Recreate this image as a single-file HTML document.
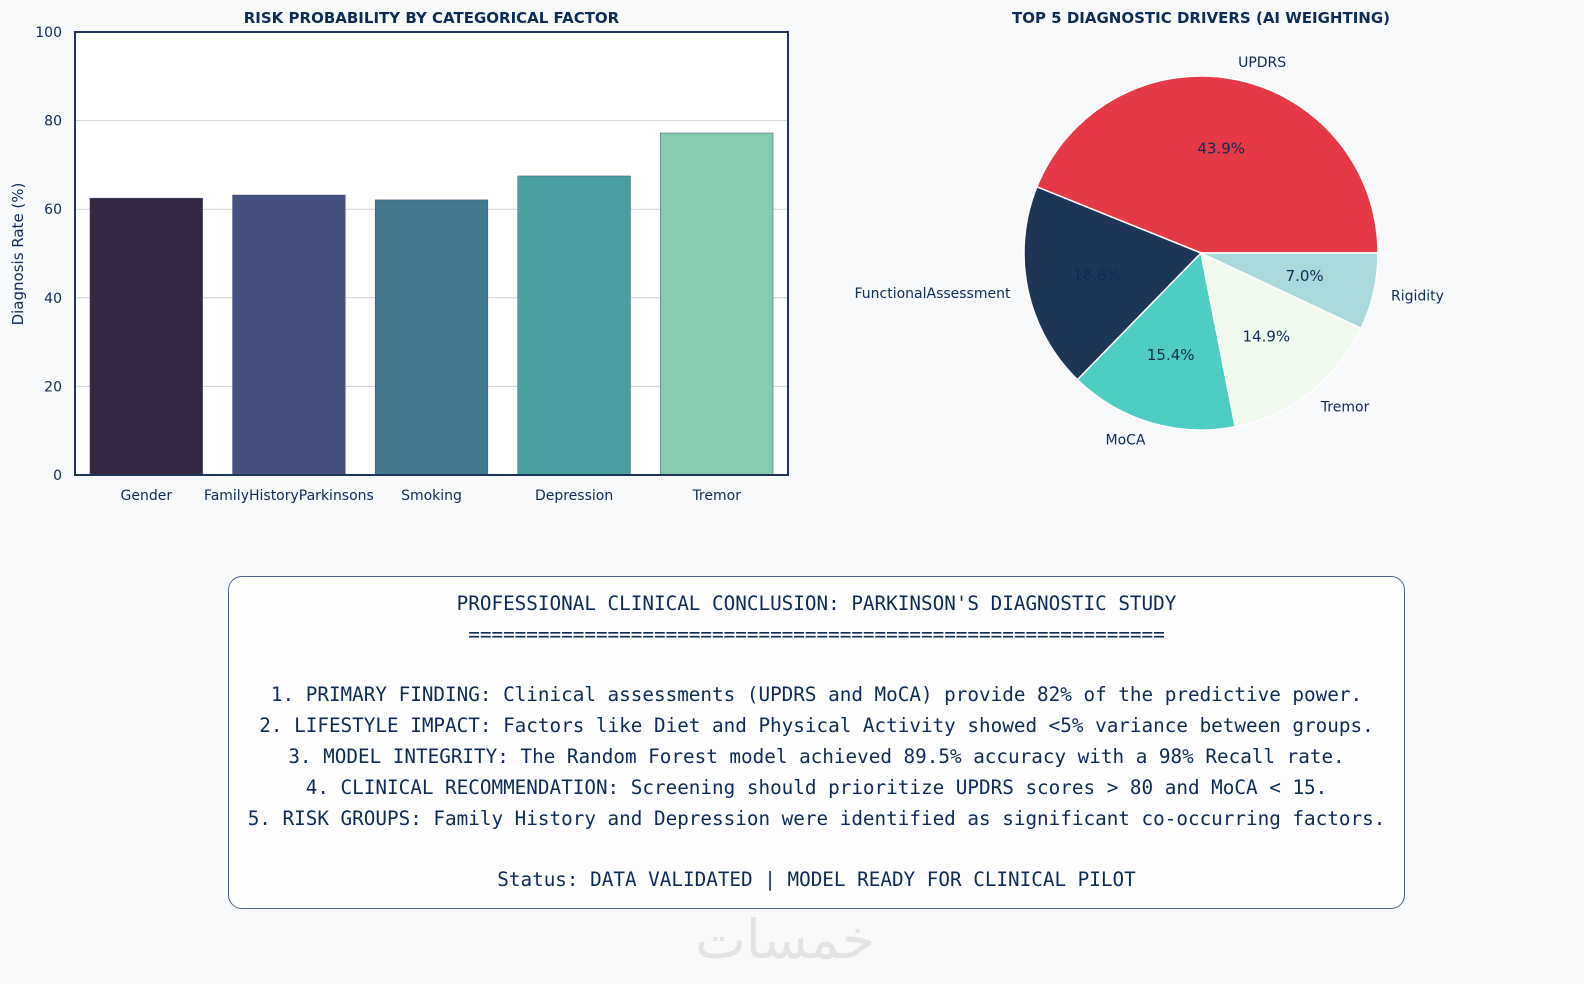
<!DOCTYPE html>
<html><head><meta charset="utf-8"><style>
body{margin:0;background:#f8f9fb;width:1584px;height:984px;overflow:hidden;font-family:"DejaVu Sans","Liberation Sans",sans-serif;}
svg text{fill:#0d2b55;}
#box{position:absolute;left:228px;top:576px;width:1175px;height:331px;border:1.5px solid #4a6384;border-radius:14px;background:#fdfdfe;}
#box div{position:absolute;left:0;width:100%;text-align:center;font-family:"DejaVu Sans Mono","Liberation Mono",monospace;font-size:19.3px;color:#0d2b55;white-space:pre;}
#wm{position:absolute;left:680px;top:895px;width:210px;text-align:center;font-size:54px;color:#e2e3e5;font-family:"Noto Sans CJK SC","DejaVu Sans",sans-serif;}
</style></head><body>
<svg id="chart" width="1584" height="984" style="position:absolute;left:0;top:0"></svg>
<div id="box">
<div style="top:15px">PROFESSIONAL CLINICAL CONCLUSION: PARKINSON'S DIAGNOSTIC STUDY</div>
<div style="top:46px">============================================================</div>
<div style="top:106px">1. PRIMARY FINDING: Clinical assessments (UPDRS and MoCA) provide 82% of the predictive power.</div>
<div style="top:137px">2. LIFESTYLE IMPACT: Factors like Diet and Physical Activity showed &lt;5% variance between groups.</div>
<div style="top:168px">3. MODEL INTEGRITY: The Random Forest model achieved 89.5% accuracy with a 98% Recall rate.</div>
<div style="top:199px">4. CLINICAL RECOMMENDATION: Screening should prioritize UPDRS scores &gt; 80 and MoCA &lt; 15.</div>
<div style="top:230px">5. RISK GROUPS: Family History and Depression were identified as significant co-occurring factors.</div>
<div style="top:291px">Status: DATA VALIDATED | MODEL READY FOR CLINICAL PILOT</div>
</div>
<div id="wm">خمسات</div>
<script>
const barCategories=["Gender","FamilyHistoryParkinsons","Smoking","Depression","Tremor"];
const barValues=[62.5,63.2,62.1,67.5,77.2];
const barColors=["#35273f","#47517f","#447792","#499e9e","#86cbad"];
const yTicks=[0,20,40,60,80,100];
const pieLabels=["UPDRS","FunctionalAssessment","MoCA","Tremor","Rigidity"];
const pieValues=[43.9,18.8,15.4,14.9,7.0];
const pieColors=["#e63946","#1d3557","#4ecdc4","#f1faee","#a8dadc"];

const NS="http://www.w3.org/2000/svg";
const svg=document.getElementById("chart");
function mk(t,a,p){const e=document.createElementNS(NS,t);for(const k in a)e.setAttribute(k,a[k]);(p||svg).appendChild(e);return e;}
const X0=75,X1=788,Y0=475,Y1=32;
const y=v=>Y0-(v-0)/(100-0)*(Y0-Y1);
const step=(X1-X0)/barCategories.length;
const xc=i=>X0+step*(i+0.5);
let r=mk("rect",{x:X0,y:Y1,width:X1-X0,height:Y0-Y1,fill:"#fff"});


yTicks.forEach(t=>{
 if(t>0&&t<100){const l=mk("line",{x1:X0,x2:X1,y1:y(t),y2:y(t),stroke:"#cdd2da","stroke-width":1});
 
 }
 const tx=mk("text",{x:X0-13,y:y(t)+5,"text-anchor":"end","font-size":14});tx.textContent=t;
 
 
});
barValues.forEach((v,i)=>{
 const w=step*0.79;
 const b=mk("rect",{x:xc(i)-w/2,y:y(v),width:w,height:Y0-y(v),fill:barColors[i],stroke:"#3a4f7a","stroke-width":0.5});
 
 
 const tx=mk("text",{x:xc(i),y:Y0+25,"text-anchor":"middle","font-size":14});tx.textContent=barCategories[i];
 
 
});
r=mk("rect",{x:X0,y:Y1,width:X1-X0,height:Y0-Y1,fill:"none",stroke:"#1d3557","stroke-width":2});


let t=mk("text",{x:(X0+X1)/2,y:23,"text-anchor":"middle","font-size":15,"font-weight":"bold"});t.textContent="RISK PROBABILITY BY CATEGORICAL FACTOR";


t=mk("text",{x:23,y:254,"text-anchor":"middle","font-size":15,transform:"rotate(-90 23 254)"});t.textContent="Diagnosis Rate (%)";



const cx=1201,cy=253,R=177;
const total=pieValues.reduce((a,b)=>a+b,0);
let a0=0;
pieValues.forEach((v,i)=>{
 const a1=a0+v/total*2*Math.PI;
 const p=(a,rr)=>[cx+rr*Math.cos(a),cy-rr*Math.sin(a)];
 const [sx,sy]=p(a0,R),[ex,ey]=p(a1,R);
 const large=(a1-a0)>Math.PI?1:0;
 const s=mk("path",{d:`M${cx},${cy}L${sx},${sy}A${R},${R} 0 ${large} 0 ${ex},${ey}Z`,fill:pieColors[i],stroke:"#fff","stroke-width":1.5});
 
 
 const m=(a0+a1)/2;
 const [lx,ly]=p(m,R*1.1);
 const anc=Math.cos(m)>0.05?"start":(Math.cos(m)<-0.05?"end":"middle");
 const lt=mk("text",{x:lx,y:ly+5,"text-anchor":anc,"font-size":14});lt.textContent=pieLabels[i];
 
 
 const [px,py]=p(m,R*0.6);
 const pt=mk("text",{x:px,y:py+5,"text-anchor":"middle","font-size":15});pt.textContent=v.toFixed(1)+"%";
 
 
 a0=a1;
});
t=mk("text",{x:1201,y:23,"text-anchor":"middle","font-size":15,"font-weight":"bold"});t.textContent="TOP 5 DIAGNOSTIC DRIVERS (AI WEIGHTING)";


</script>
</body></html>
